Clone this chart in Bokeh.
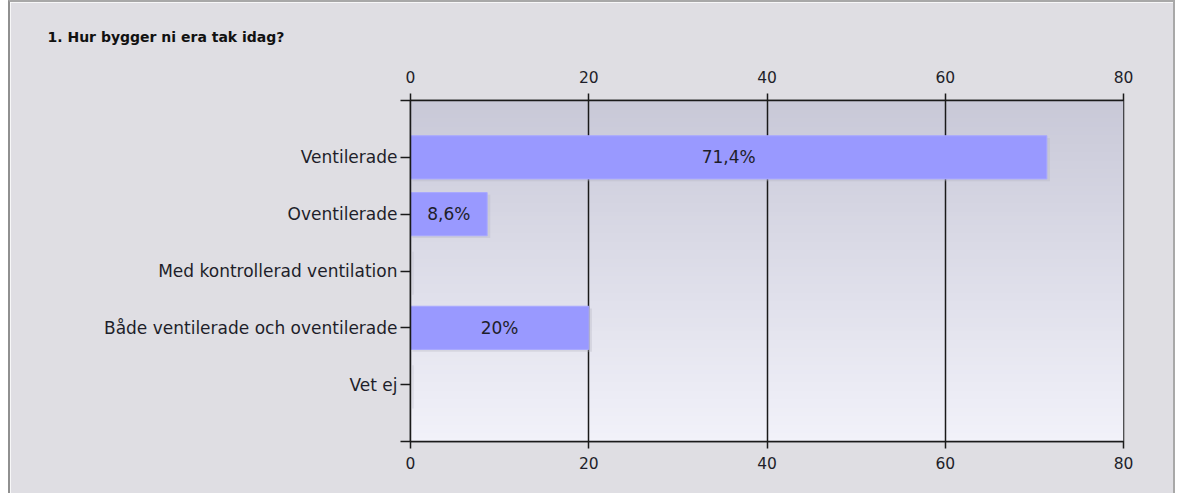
import numpy as np
from bokeh.plotting import figure
from bokeh.models import (ColumnDataSource, Range1d, LinearAxis, FixedTicker)
from bokeh.transform import dodge
from bokeh.core.properties import value
from bokeh.embed import file_html
from bokeh.resources import INLINE

title_text = "1. Hur bygger ni era tak idag?"
categories = ["Ventilerade", "Oventilerade", "Med kontrollerad ventilation",
              "Både ventilerade och oventilerade", "Vet ej"]
values = [71.4, 8.6, 0.0, 20.0, 0.0]
bar_labels = ["71,4%", "8,6%", "", "20%", ""]
x_ticks = [0, 20, 40, 60, 80]

pos = list(range(1, len(categories) + 1))
src = ColumnDataSource(dict(y=pos, v=values, half=[v / 2 for v in values],
                            lab=bar_labels, zero=[0.0] * len(values)))

FONT = "DejaVu Sans"
TXT = "#1e1e2a"
FS = "17px"

p = figure(width=1167, height=493, output_backend="svg", toolbar_location=None,
           x_range=Range1d(0, 80), y_range=Range1d(len(categories) + 1, 0),
           x_axis_location="below", min_border_left=400, min_border_right=54,
           min_border_top=98, min_border_bottom=54)
p.margin = (0, 2, 0, 8)
p.styles = {"border-left": "2px solid #909090", "border-top": "2px solid #a8a8a8",
            "border-right": "2px solid #a8a8a8"}
p.background_fill_color = None
p.border_fill_color = "#dfdee3"
p.outline_line_color = "#1a1a1a"
p.outline_line_width = 1.5

p.title.text = title_text
p.title.align = "left"
p.title.offset = -363
p.title.standoff = 46
p.title.text_font = FONT
p.title.text_font_size = "14px"
p.title.text_font_style = "bold"
p.title.text_color = "#111111"

# gradient background of plot area
ny = 80
top = np.array([201, 201, 216])
bot = np.array([242, 242, 250])
img = np.zeros((ny, 2), dtype=np.uint32)
view = img.view(dtype=np.uint8).reshape((ny, 2, 4))
for i in range(ny):
    t = i / (ny - 1)
    c = top * (1 - t) + bot * t
    view[i, :, 0] = int(c[0]); view[i, :, 1] = int(c[1]); view[i, :, 2] = int(c[2]); view[i, :, 3] = 255
p.image_rgba(image=[img], x=0, y=0, dw=80, dh=len(categories) + 1, level="image")

# shadows and bars
p.hbar(y=dodge("y", 0.04), left=0.2, right=dodge("v", 0.35), height=0.76, source=src,
       fill_color="#b4b4c0", fill_alpha=0.35, line_color=None)
p.hbar(y="y", left="zero", right="v", height=0.76, source=src,
       fill_color="#9999ff", line_color="#a8a8ff", line_width=1)
p.text(x="half", y="y", text="lab", source=src, text_align="center",
       text_baseline="middle", text_font=value(FONT), text_font_size=FS,
       text_color=TXT)

# axes
bottom_ax = p.xaxis[0]
bottom_ax.ticker = FixedTicker(ticks=x_ticks)
top_ax = LinearAxis(ticker=FixedTicker(ticks=x_ticks))
p.add_layout(top_ax, "above")
for ax in (bottom_ax, top_ax):
    ax.major_tick_out = 7
    ax.major_tick_in = 0
    ax.minor_tick_line_color = None
    ax.axis_line_color = "#1a1a1a"
    ax.axis_line_width = 1.5
    ax.major_tick_line_color = "#1a1a1a"
    ax.major_tick_line_width = 1.5
    ax.major_label_text_font = FONT
    ax.major_label_text_font_size = "15.5px"
    ax.major_label_text_color = TXT
top_ax.major_label_standoff = 11
bottom_ax.major_label_standoff = 8

yax = p.yaxis[0]
yax.ticker = FixedTicker(ticks=[0] + pos + [len(categories) + 1])
ov = {0: "", len(categories) + 1: ""}
for i, c in zip(pos, categories):
    ov[i] = c
yax.major_label_overrides = ov
yax.major_tick_out = 10
yax.major_tick_in = 0
yax.minor_tick_line_color = None
yax.axis_line_color = "#1a1a1a"
yax.axis_line_width = 1.5
yax.major_tick_line_color = "#1a1a1a"
yax.major_tick_line_width = 1.5
yax.major_label_text_font = FONT
yax.major_label_text_font_size = FS
yax.major_label_text_color = TXT
yax.major_label_standoff = 3

p.xgrid.ticker = FixedTicker(ticks=[20, 40, 60, 80])
p.xgrid.grid_line_color = "#1a1a1a"
p.xgrid.grid_line_width = 1.5
p.ygrid.grid_line_color = None

open("out.html", "w").write(file_html(p, INLINE))
